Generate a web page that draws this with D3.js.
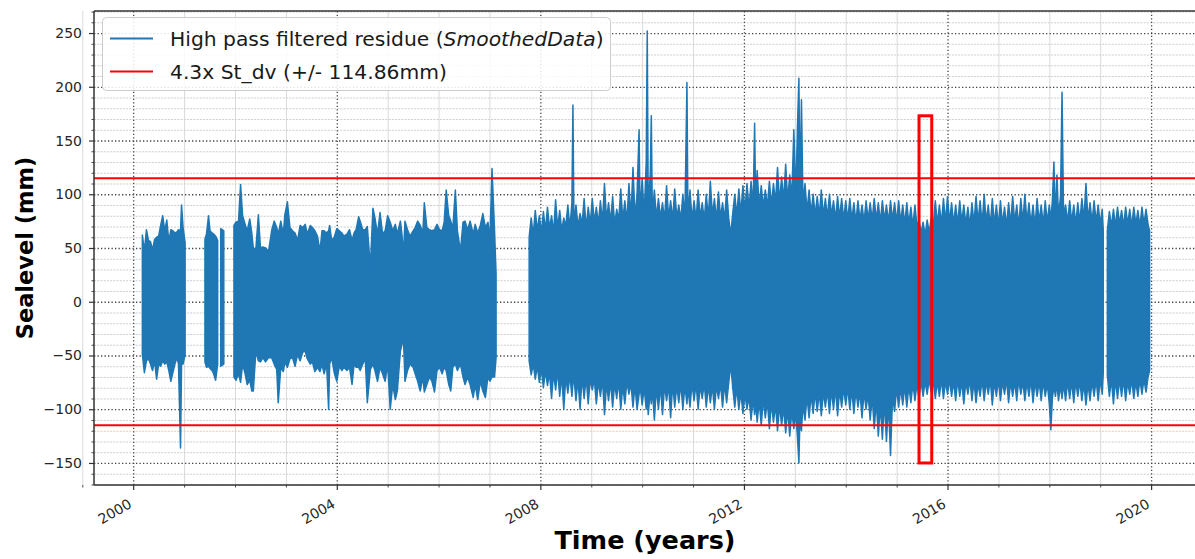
<!DOCTYPE html>
<html>
<head>
<meta charset="utf-8">
<script src="https://cdn.jsdelivr.net/npm/d3@7"></script>
<style>
  body { margin: 0; background: #ffffff; }
  svg { display: block; }
  text { font-family: "DejaVu Sans", "Liberation Sans", sans-serif; }
</style>
</head>
<body>
<svg id="chart" width="1195" height="559"></svg>
<script>
// ---------------- DATA ----------------
// Each row: [time in years, upper envelope (mm), lower envelope (mm)]
const residueSeg2000 = [
  [2000.18,62,-49],[2000.22,47,-66],[2000.26,67,-55],[2000.30,57,-53],[2000.34,56,-58],
  [2000.38,48,-64],[2000.42,58,-55],[2000.46,60,-72],[2000.50,61,-58],[2000.54,71,-60],
  [2000.58,80,-55],[2000.62,66,-58],[2000.66,76,-56],[2000.70,56,-64],[2000.74,67,-74],
  [2000.78,66,-66],[2000.82,64,-58],[2000.86,65,-52],[2000.89,67,-58],[2000.93,66,-136],
  [2000.95,90,-58],[2000.98,69,-58],[2001.02,55,-49]
];
const residueSeg2001a = [
  [2001.41,58,-56],[2001.44,63,-61],[2001.48,80,-60],[2001.51,66,-62],[2001.55,64,-64],
  [2001.58,63,-67],[2001.62,61,-73],[2001.66,57,-58]
];
const residueSeg2001b = [
  [2001.72,68,-60],[2001.78,66,-58]
];
const residueSeg2002 = [
  [2001.98,71,-70],[2002.02,74,-73],[2002.07,75,-67],[2002.11,109,-75],[2002.15,80,-58],
  [2002.20,72,-67],[2002.24,66,-77],[2002.29,77,-73],[2002.33,64,-83],[2002.36,50,-83],
  [2002.41,49,-46],[2002.46,81,-55],[2002.50,50,-56],[2002.55,51,-52],[2002.60,50,-56],
  [2002.66,47,-52],
  [2002.72,66,-52],[2002.77,75,-58],[2002.82,69,-63],[2002.85,63,-94],[2002.90,75,-61],
  [2002.95,63,-65],[2002.98,81,-56],[2003.03,93,-61],[2003.08,69,-53],[2003.13,66,-52],
  [2003.18,64,-60],[2003.23,57,-49],[2003.28,71,-55],[2003.33,69,-47],[2003.38,72,-46],
  [2003.42,63,-53],[2003.48,71,-58],[2003.52,69,-56],[2003.57,66,-65],[2003.62,61,-61],
  [2003.67,47,-65],[2003.71,66,-58],[2003.75,66,-67],[2003.80,64,-58],[2003.84,66,-100],
  [2003.86,71,-58],[2003.90,57,-52],[2003.95,60,-66],[2004.00,68,-74],[2004.05,66,-60],
  [2004.10,64,-64],[2004.14,61,-61],[2004.20,63,-64],[2004.25,67,-61],[2004.30,57,-77],
  [2004.34,64,-58],[2004.38,67,-61],[2004.43,79,-61],[2004.46,75,-64],[2004.51,67,-58],
  [2004.56,67,-53],[2004.60,70,-94],[2004.66,32,-63],[2004.71,87,-58],[2004.75,78,-64],
  [2004.80,63,-74],[2004.85,83,-61],[2004.90,63,-67],[2004.95,66,-74],[2005.00,80,-58],
  [2005.05,74,-100],[2005.10,66,-77],[2005.15,72,-91],[2005.19,63,-83],[2005.25,75,-46],
  [2005.28,63,-40],[2005.31,44,-33],[2005.34,75,-74],[2005.39,67,-64],[2005.44,61,-58],
  [2005.50,66,-61],[2005.54,69,-67],[2005.59,75,-74],[2005.64,71,-83],[2005.69,64,-70],
  [2005.72,92,-84],[2005.77,69,-77],[2005.82,67,-70],[2005.87,66,-74],[2005.92,67,-84],
  [2005.97,72,-64],[2006.02,67,-61],[2006.07,66,-67],[2006.11,74,-61],[2006.15,104,-64],
  [2006.20,80,-77],[2006.24,75,-83],[2006.28,68,-61],[2006.33,104,-58],[2006.37,66,-64],
  [2006.43,47,-58],[2006.48,74,-70],[2006.52,75,-77],[2006.57,67,-70],[2006.62,75,-77],
  [2006.68,63,-89],[2006.72,72,-77],[2006.77,64,-91],[2006.82,71,-74],[2006.87,82,-83],
  [2006.92,69,-89],[2006.97,74,-70],[2007.01,58,-74],[2007.05,124,-70],[2007.10,66,-70],
  [2007.13,26,-52]
];
const residueSeg2008 = [
  [2007.78,60,-55],[2007.82,78,-68],[2007.86,62,-58],[2007.90,85,-72],[2007.94,66,-60],
  [2007.98,80,-75],[2008.02,64,-62],[2008.06,84,-80],[2008.10,66,-64],[2008.14,88,-78],
  [2008.18,68,-66],[2008.22,80,-90],[2008.26,64,-66],[2008.30,95,-82],[2008.34,68,-64],
  [2008.38,85,-88],[2008.42,66,-68],[2008.46,78,-100],[2008.50,70,-70],[2008.54,90,-85],
  [2008.58,68,-68],[2008.62,92,-88],[2008.64,183,-76],[2008.66,72,-70],[2008.70,90,-92],
  [2008.74,70,-72],[2008.78,82,-100],[2008.82,72,-70],[2008.86,96,-90],[2008.90,68,-70],
  [2008.94,88,-95],[2008.98,72,-72],[2009.02,96,-82],[2009.06,74,-72],[2009.10,88,-95],
  [2009.14,72,-74],[2009.18,94,-88],[2009.22,74,-72],[2009.26,110,-105],[2009.30,76,-76],
  [2009.34,92,-92],[2009.38,74,-74],[2009.42,98,-98],[2009.46,72,-76],[2009.50,86,-90],
  [2009.54,76,-74],[2009.58,105,-100],[2009.62,76,-78],[2009.66,94,-95],[2009.70,74,-74],
  [2009.74,110,-86],[2009.78,78,-76],[2009.82,125,-98],[2009.86,78,-78],[2009.90,100,-100],
  [2009.94,160,-86],[2009.96,80,-78],[2010.00,115,-96],[2010.04,80,-80],[2010.08,130,-100],
  [2010.10,252,-86],[2010.12,84,-105],[2010.16,120,-82],[2010.18,173,-95],[2010.20,82,-80],
  [2010.24,104,-110],[2010.28,78,-80],[2010.32,96,-100],[2010.36,78,-78],[2010.40,92,-105],
  [2010.44,76,-78],[2010.48,108,-92],[2010.52,78,-78],[2010.56,94,-108],[2010.60,76,-76],
  [2010.64,105,-98],[2010.68,78,-78],[2010.72,90,-94],[2010.76,76,-76],[2010.80,100,-100],
  [2010.84,78,-78],[2010.88,204,-95],[2010.90,80,-80],[2010.94,104,-98],[2010.98,76,-76],
  [2011.02,94,-92],[2011.06,76,-76],[2011.10,104,-100],[2011.14,78,-78],[2011.18,92,-90],
  [2011.22,76,-76],[2011.26,100,-98],[2011.30,78,-78],[2011.34,112,-94],[2011.38,80,-78],
  [2011.42,96,-100],[2011.46,76,-78],[2011.50,102,-90],[2011.54,78,-76],[2011.58,92,-98],
  [2011.62,76,-76],[2011.66,104,-94],[2011.70,78,-76],[2011.74,62,-58],[2011.78,82,-80],
  [2011.82,100,-98],[2011.86,80,-80],[2011.90,105,-100],[2011.94,82,-84],[2011.98,108,-104],
  [2012.02,84,-86],[2012.06,110,-100],[2012.10,86,-88],[2012.14,112,-110],[2012.18,88,-90],
  [2012.21,166,-105],[2012.23,90,-92],[2012.26,122,-112],[2012.30,88,-92],[2012.34,108,-115],
  [2012.38,88,-90],[2012.42,104,-108],[2012.46,88,-92],[2012.50,112,-118],[2012.54,90,-94],
  [2012.58,110,-112],[2012.62,92,-96],[2012.66,125,-120],[2012.70,92,-96],[2012.74,116,-115],
  [2012.78,94,-98],[2012.82,128,-122],[2012.86,94,-100],[2012.90,118,-125],[2012.94,96,-102],
  [2012.98,160,-118],[2013.02,98,-104],[2013.05,160,-125],[2013.08,208,-150],[2013.10,100,-108],
  [2013.13,188,-120],[2013.16,92,-96],[2013.20,110,-110],[2013.24,84,-88],[2013.28,104,-108],
  [2013.32,82,-86],[2013.36,100,-104],[2013.40,80,-84],[2013.44,98,-102],[2013.48,80,-84],
  [2013.52,104,-106],[2013.56,80,-84],[2013.60,96,-98],[2013.64,78,-82],[2013.68,100,-104],
  [2013.72,80,-82],[2013.76,94,-100],[2013.80,76,-80],[2013.84,98,-106],[2013.88,78,-82],
  [2013.92,96,-98],[2013.96,76,-80],[2014.00,94,-96],[2014.04,76,-80],[2014.08,96,-100],
  [2014.12,76,-82],[2014.16,92,-104],[2014.20,74,-82],[2014.24,94,-98],[2014.28,76,-84],
  [2014.32,90,-108],[2014.36,74,-84],[2014.40,94,-100],[2014.44,76,-86],[2014.48,92,-110],
  [2014.52,76,-88],[2014.56,96,-118],[2014.60,76,-92],[2014.64,92,-125],[2014.68,74,-96],
  [2014.72,94,-128],[2014.76,76,-92],[2014.80,90,-130],[2014.84,74,-94],[2014.88,94,-143],
  [2014.92,76,-88],[2014.96,92,-102],[2015.00,74,-80],[2015.04,94,-98],[2015.08,74,-80],
  [2015.12,90,-96],[2015.16,72,-78],[2015.20,92,-98],[2015.24,72,-78],[2015.28,88,-94],
  [2015.32,70,-76],[2015.36,90,-92],[2015.40,70,-76],[2015.44,76,-90],[2015.48,64,-74],
  [2015.52,74,-88],[2015.56,62,-74],[2015.60,76,-86],[2015.64,64,-72],[2015.68,78,-84],
  [2015.72,70,-74],[2015.76,94,-90],[2015.80,72,-74],[2015.84,90,-88],[2015.88,72,-72],
  [2015.92,96,-90],[2015.96,74,-74],[2016.00,98,-86],[2016.04,74,-72],[2016.08,92,-88],
  [2016.12,72,-74],[2016.16,90,-92],[2016.20,72,-72],[2016.24,94,-88],[2016.28,74,-74],
  [2016.32,90,-95],[2016.36,72,-74],[2016.40,88,-86],[2016.44,70,-72],[2016.48,92,-92],
  [2016.52,72,-74],[2016.56,98,-94],[2016.60,74,-76],[2016.64,94,-88],[2016.68,72,-72],
  [2016.72,100,-92],[2016.76,74,-74],[2016.80,90,-86],[2016.84,70,-72],[2016.88,96,-96],
  [2016.92,72,-74],[2016.96,90,-88],[2017.00,70,-72],[2017.04,94,-92],[2017.08,72,-74],
  [2017.12,88,-86],[2017.16,70,-72],[2017.20,92,-94],[2017.24,72,-74],[2017.28,98,-88],
  [2017.32,74,-74],[2017.36,90,-92],[2017.40,70,-72],[2017.44,96,-86],[2017.48,74,-74],
  [2017.52,100,-92],[2017.56,74,-74],[2017.60,92,-88],[2017.64,72,-72],[2017.68,90,-94],
  [2017.72,70,-74],[2017.76,96,-88],[2017.80,74,-74],[2017.84,90,-92],[2017.88,72,-74],
  [2017.92,94,-88],[2017.96,74,-76],[2018.00,90,-95],[2018.03,76,-119],[2018.06,94,-90],
  [2018.09,130,-78],[2018.12,78,-88],[2018.15,118,-76],[2018.18,80,-92],[2018.22,98,-78],
  [2018.25,195,-90],[2018.28,80,-76],[2018.32,90,-92],[2018.36,74,-74],[2018.40,94,-90],
  [2018.44,74,-74],[2018.48,90,-94],[2018.52,72,-74],[2018.56,92,-88],[2018.60,74,-74],
  [2018.64,96,-92],[2018.68,76,-76],[2018.72,110,-96],[2018.76,76,-76],[2018.80,92,-92],
  [2018.84,74,-74],[2018.88,94,-88],[2018.92,74,-72],[2018.96,90,-92],[2019.00,72,-72],
  [2019.04,86,-86],[2019.06,66,-66]
];
const residueSeg2019 = [
  [2019.14,66,-68],[2019.18,84,-88],[2019.22,70,-72],[2019.26,86,-95],[2019.30,70,-72],
  [2019.34,88,-90],[2019.38,72,-72],[2019.42,85,-88],[2019.46,70,-72],[2019.50,88,-92],
  [2019.54,72,-74],[2019.58,86,-86],[2019.62,70,-72],[2019.66,88,-90],[2019.70,72,-74],
  [2019.74,85,-88],[2019.78,70,-72],[2019.82,88,-86],[2019.86,72,-72],[2019.90,86,-84],
  [2019.94,72,-70],[2019.97,66,-64]
];

const thresholdMm = [114.86, -114.86];
const highlightYears = [2015.44, 2015.69];
const highlightMm = [-150, 173];

const xMajorTicks = [2000, 2004, 2008, 2012, 2016, 2020];
const xMinorTicks = d3.range(1999, 2022, 1);
const yMajorTicks = [-150, -100, -50, 0, 50, 100, 150, 200, 250];
const yMinorTicks = d3.range(-170, 271, 10);

const legendLabels = ["High pass filtered residue (", "SmoothedData", ")", "4.3x St_dv (+/- 114.86mm)"];
const xTitle = "Time (years)";
const yTitle = "Sealevel (mm)";

// ---------------- LAYOUT ----------------
const W = 1195, H = 559;
const plotLeft = 94, plotRight = 1202, plotTop = 11, plotBottom = 485;
const blue = "#1f77b4", red = "#ff0000";

const x = d3.scaleLinear().domain([1999.23, 2021.0]).range([plotLeft, plotRight]);
const y = d3.scaleLinear().domain([-170.5, 270.5]).range([plotBottom, plotTop]);

const svg = d3.select("#chart");
svg.append("rect").attr("width", W).attr("height", H).attr("fill", "#fff");

svg.append("defs").append("clipPath").attr("id", "plotClip")
  .append("rect").attr("x", plotLeft).attr("y", plotTop)
  .attr("width", plotRight - plotLeft).attr("height", plotBottom - plotTop);

// ---------------- GRID ----------------
const grid = svg.append("g");
grid.append("g").attr("transform", `translate(0,${plotBottom})`)
  .call(d3.axisBottom(x).tickValues(xMinorTicks.filter(v => !xMajorTicks.includes(v)))
    .tickSize(-(plotBottom - plotTop)).tickFormat(""))
  .call(g => g.select(".domain").remove())
  .call(g => g.selectAll("line").attr("stroke", "#d6d6d6").attr("stroke-width", 0.9));
grid.append("g").attr("transform", `translate(${plotLeft},0)`)
  .call(d3.axisLeft(y).tickValues(yMinorTicks.filter(v => !yMajorTicks.includes(v)))
    .tickSize(-(plotRight - plotLeft)).tickFormat(""))
  .call(g => g.select(".domain").remove())
  .call(g => g.selectAll("line").attr("stroke", "#c8c8c8").attr("stroke-width", 0.9)
    .attr("stroke-dasharray", "2,1.2"));
grid.append("g").attr("transform", `translate(0,${plotBottom})`)
  .call(d3.axisBottom(x).tickValues(xMajorTicks).tickSize(-(plotBottom - plotTop)).tickFormat(""))
  .call(g => g.select(".domain").remove())
  .call(g => g.selectAll("line").attr("stroke", "#444").attr("stroke-width", 1.3)
    .attr("stroke-dasharray", "1.3,2.2"));
grid.append("g").attr("transform", `translate(${plotLeft},0)`)
  .call(d3.axisLeft(y).tickValues(yMajorTicks).tickSize(-(plotRight - plotLeft)).tickFormat(""))
  .call(g => g.select(".domain").remove())
  .call(g => g.selectAll("line").attr("stroke", "#444").attr("stroke-width", 1.3)
    .attr("stroke-dasharray", "1.3,2.2"));

// ---------------- SERIES ----------------
const plot = svg.append("g").attr("clip-path", "url(#plotClip)");
const segments = [residueSeg2000, residueSeg2001a, residueSeg2001b, residueSeg2002, residueSeg2008, residueSeg2019];
const area = d3.area().x(d => x(d[0])).y0(d => y(d[2])).y1(d => y(d[1]));
plot.selectAll("path.residue").data(segments).join("path")
  .attr("class", "residue")
  .attr("d", area)
  .attr("fill", blue).attr("stroke", blue).attr("stroke-width", 1.5)
  .attr("stroke-linejoin", "round");

plot.selectAll("line.thr").data(thresholdMm).join("line")
  .attr("class", "thr")
  .attr("x1", plotLeft).attr("x2", plotRight)
  .attr("y1", d => y(d)).attr("y2", d => y(d))
  .attr("stroke", red).attr("stroke-width", 2);

plot.append("rect")
  .attr("x", x(highlightYears[0])).attr("width", x(highlightYears[1]) - x(highlightYears[0]))
  .attr("y", y(highlightMm[1])).attr("height", y(highlightMm[0]) - y(highlightMm[1]))
  .attr("fill", "none").attr("stroke", red).attr("stroke-width", 3);

// ---------------- AXES ----------------
const axisColor = "#333";
const yAxis = svg.append("g").attr("transform", `translate(${plotLeft},0)`)
  .call(d3.axisLeft(y).tickValues(yMajorTicks).tickSize(5).tickPadding(7))
  .call(g => g.select(".domain").remove());
yAxis.selectAll("line").attr("stroke", axisColor).attr("stroke-width", 1.2);
yAxis.selectAll("text").attr("font-size", 14).attr("fill", "#262626")
  .attr("font-family", "DejaVu Sans, sans-serif");
svg.append("g").attr("transform", `translate(${plotLeft},0)`)
  .call(d3.axisLeft(y).tickValues(yMinorTicks.filter(v => !yMajorTicks.includes(v))).tickSize(2.5).tickFormat(""))
  .call(g => g.select(".domain").remove())
  .call(g => g.selectAll("line").attr("stroke", axisColor).attr("stroke-width", 0.9));

const xAxis = svg.append("g").attr("transform", `translate(0,${plotBottom})`)
  .call(d3.axisBottom(x).tickValues(xMajorTicks).tickSize(5).tickFormat(d3.format("d")))
  .call(g => g.select(".domain").remove());
xAxis.selectAll("line").attr("stroke", axisColor).attr("stroke-width", 1.2);
xAxis.selectAll("text")
  .attr("font-size", 14).attr("fill", "#262626")
  .attr("font-family", "DejaVu Sans, sans-serif")
  .attr("text-anchor", "end")
  .attr("y", 0).attr("dy", "0.72em")
  .attr("transform", "translate(-6,13) rotate(-30)");
svg.append("g").attr("transform", `translate(0,${plotBottom})`)
  .call(d3.axisBottom(x).tickValues(xMinorTicks.filter(v => !xMajorTicks.includes(v))).tickSize(2.5).tickFormat(""))
  .call(g => g.select(".domain").remove())
  .call(g => g.selectAll("line").attr("stroke", axisColor).attr("stroke-width", 0.9));

svg.append("line").attr("x1", plotLeft).attr("x2", plotLeft).attr("y1", plotTop).attr("y2", plotBottom)
  .attr("stroke", axisColor).attr("stroke-width", 1.5);
svg.append("line").attr("x1", plotLeft).attr("x2", plotRight).attr("y1", plotBottom).attr("y2", plotBottom)
  .attr("stroke", axisColor).attr("stroke-width", 1.5);
svg.append("line").attr("x1", plotLeft).attr("x2", plotRight).attr("y1", plotTop).attr("y2", plotTop)
  .attr("stroke", axisColor).attr("stroke-width", 1.5);

svg.append("text").attr("x", (plotLeft + 1196) / 2).attr("y", 549)
  .attr("text-anchor", "middle").attr("font-weight", "bold").attr("font-size", 25.5)
  .attr("fill", "#000").text(xTitle);
svg.append("text").attr("transform", `translate(33,${(plotTop + plotBottom) / 2}) rotate(-90)`)
  .attr("text-anchor", "middle").attr("font-weight", "bold").attr("font-size", 22.5)
  .attr("fill", "#000").text(yTitle);

// ---------------- LEGEND ----------------
const lg = svg.append("g");
lg.append("rect").attr("x", 102.5).attr("y", 17.5).attr("width", 508).attr("height", 73).attr("rx", 4)
  .attr("fill", "#fff").attr("fill-opacity", 0.85).attr("stroke", "#cccccc").attr("stroke-width", 1);
lg.append("line").attr("x1", 110).attr("x2", 153).attr("y1", 38.5).attr("y2", 38.5)
  .attr("stroke", blue).attr("stroke-width", 2);
lg.append("line").attr("x1", 110).attr("x2", 153).attr("y1", 71.5).attr("y2", 71.5)
  .attr("stroke", red).attr("stroke-width", 2);
const t1 = lg.append("text").attr("x", 170).attr("y", 45.5).attr("font-size", 20.3).attr("fill", "#1a1a1a");
t1.append("tspan").text(legendLabels[0]);
t1.append("tspan").attr("font-style", "italic").text(legendLabels[1]);
t1.append("tspan").text(legendLabels[2]);
lg.append("text").attr("x", 170).attr("y", 79).attr("font-size", 20.3).attr("fill", "#1a1a1a")
  .text(legendLabels[3]);
</script>
</body>
</html>
